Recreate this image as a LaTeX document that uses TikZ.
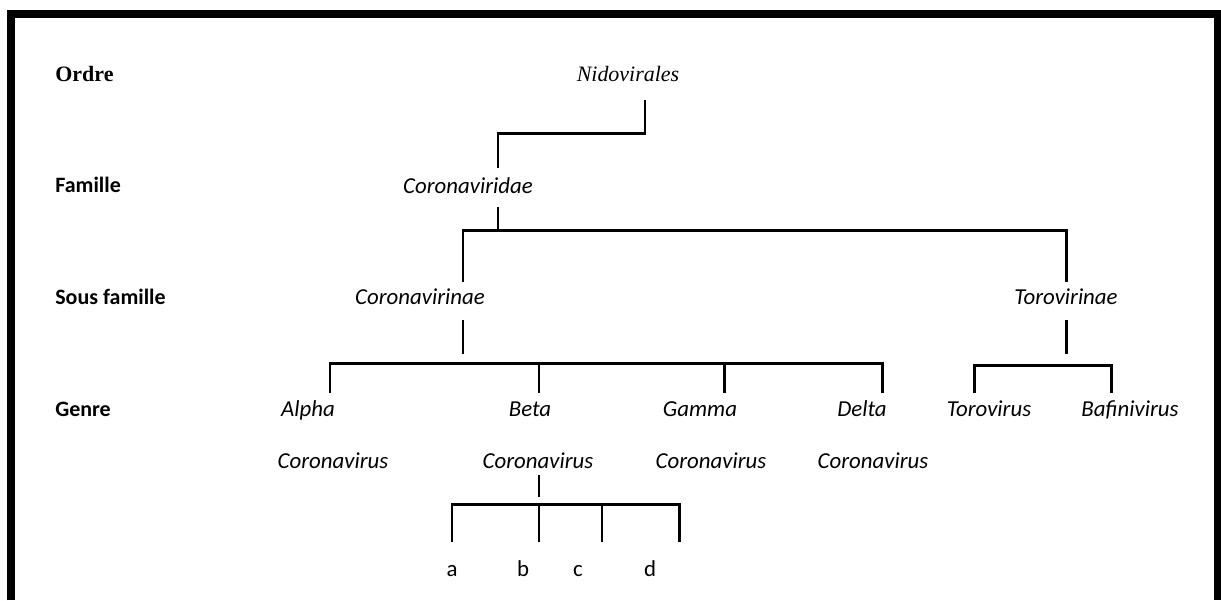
\documentclass[tikz,border=0pt]{standalone}
\usepackage{fontspec}
\setmainfont{Carlito}
\newfontfamily\serifrank{Liberation Serif}
\usetikzlibrary{positioning}

\begin{document}
\begin{tikzpicture}[x=0.02cm, y=-0.02cm,
    rank/.style={anchor=west, inner sep=0pt, text height=1.8ex, text depth=0.3ex, font=\fontsize{12.5}{15}\selectfont\bfseries},
    taxon/.style={inner sep=0pt, text height=1.8ex, text depth=0.3ex, font=\fontsize{13}{15}\selectfont\itshape},
    leaf/.style={inner sep=0pt, text height=1.8ex, text depth=0.3ex, font=\fontsize{13}{15}\selectfont},
    tree/.style={draw=black, line width=1.7pt},
    frame/.style={draw=black, line width=4.5pt}]

    \useasboundingbox (0,0) rectangle (1221,600);
    \draw[frame] (11,600) -- (11,14) -- (1221,14);
    \draw[frame] (1218,14) -- (1218,600);

    % rangs
    \node[rank, font=\fontsize{12.5}{15}\selectfont\serifrank\bfseries] (ordre) at (55,75) {Ordre};
    \node[rank] (famille) at (55,186) {Famille};
    \node[rank] (sousfam) at (55,298) {Sous famille};
    \node[rank] (genre) at (55,410) {Genre};

    % taxons
    \node[taxon, font=\fontsize{12.5}{14}\selectfont\serifrank\itshape] (nido) at (628,75) {Nidovirales};
    \node[taxon] (corvdae) at (468,187) {Coronaviridae};
    \node[taxon] (corvnae) at (420,298) {Coronavirinae};
    \node[taxon] (torvnae) at (1066,298) {Torovirinae};

    \node[taxon] (alpha) at (308,410) {Alpha};
    \node[taxon] (beta) at (530,410) {Beta};
    \node[taxon] (gamma) at (700,410) {Gamma};
    \node[taxon] (delta) at (862,410) {Delta};
    \node[taxon] (torov) at (989,410) {Torovirus};
    \node[taxon] (bafin) at (1130,410) {Bafinivirus};

    \node[taxon] (cvA) at (333,462) {Coronavirus};
    \node[taxon] (cvB) at (538,462) {Coronavirus};
    \node[taxon] (cvG) at (711,462) {Coronavirus};
    \node[taxon] (cvD) at (873,462) {Coronavirus};

    \node[leaf] (a) at (452,570) {a};
    \node[leaf] (b) at (523,570) {b};
    \node[leaf] (c) at (578,570) {c};
    \node[leaf] (d) at (650,570) {d};

    % points des branches
    \coordinate (nidoB) at (645,100);
    \coordinate (nidoJ) at (645,133);
    \coordinate (famT) at (498,168);
    \coordinate (famB) at (498,207);
    \coordinate (famJ) at (498,230);
    \coordinate (corT) at (463,282);
    \coordinate (torT) at (1066,282);
    \coordinate (corB) at (463,320);
    \coordinate (corE) at (463,354);
    \coordinate (genJ) at (539,363);
    \coordinate (torB) at (1066,320);
    \coordinate (torE) at (1066,354);
    \coordinate (torJ) at (1066,365);
    \coordinate (alphaT) at (330,393);
    \coordinate (betaT) at (539,393);
    \coordinate (gammaT) at (724,393);
    \coordinate (deltaT) at (882,393);
    \coordinate (torovT) at (974,393);
    \coordinate (bafinT) at (1111,393);
    \coordinate (cvBB) at (539,475);
    \coordinate (cvBE) at (539,497);
    \coordinate (subJ) at (539,504);
    \coordinate (aT) at (452,542);
    \coordinate (bT) at (539,542);
    \coordinate (cT) at (602,542);
    \coordinate (dT) at (679,542);

    \draw[tree] (nidoB) -- (nidoJ) -| (famT);
    \draw[tree] (famB) -- (famJ);
    \draw[tree] (corT) |- (famJ) -| (torT);
    \draw[tree] (corB) -- (corE);
    \draw[tree] (alphaT) |- (genJ) -| (deltaT);
    \draw[tree] (betaT) -- (genJ);
    \draw[tree] (gammaT) -- (gammaT |- genJ);
    \draw[tree] (torB) -- (torE);
    \draw[tree] (torovT) |- (torJ) -| (bafinT);
    \draw[tree] (cvBB) -- (cvBE);
    \draw[tree] (aT) |- (subJ) -| (dT);
    \draw[tree] (bT) -- (subJ);
    \draw[tree] (cT) -- (cT |- subJ);
\end{tikzpicture}
\end{document}
